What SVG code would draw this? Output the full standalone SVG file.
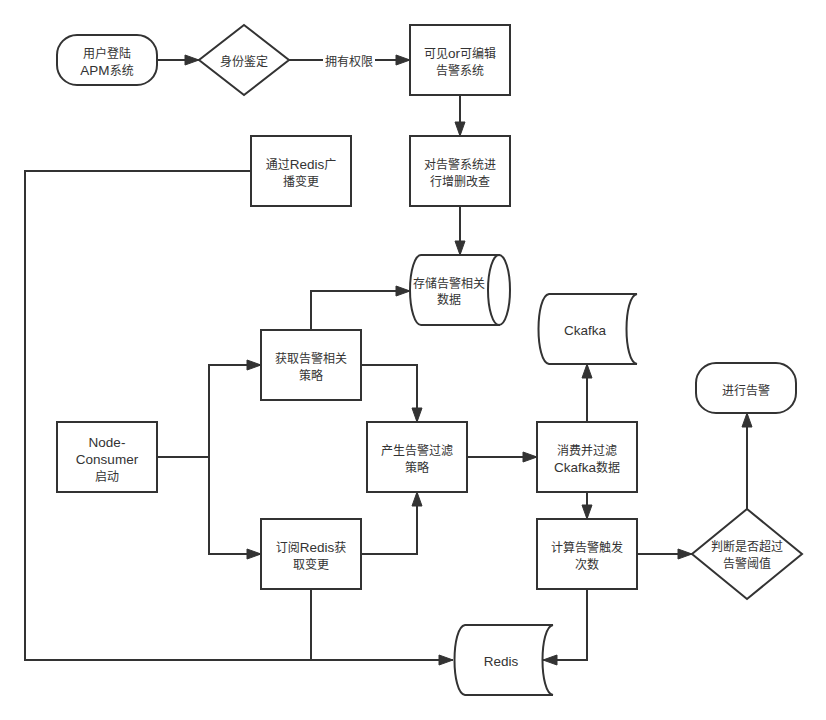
<svg xmlns="http://www.w3.org/2000/svg" width="826" height="720" viewBox="0 0 826 720">
<style>
.s{fill:#ffffff;stroke:#333333;stroke-width:2}
.e{fill:none;stroke:#333333;stroke-width:2}
text{font-family:"Liberation Sans","Noto Sans CJK SC",sans-serif;font-size:12px;fill:#333333;text-anchor:middle}
.l{font-size:13.5px}
</style>
<defs>
<marker id="arr" markerUnits="userSpaceOnUse" markerWidth="16" markerHeight="12" viewBox="0 0 16 12" refX="15" refY="6" orient="auto">
<path d="M1,1 L15,6 L1,11 Z" fill="#333333" stroke="#333333" stroke-width="1"/>
</marker>
</defs>
<rect width="826" height="720" fill="#ffffff"/>
<g id="connectors">
<path class="e" d="M157,60 H199" marker-end="url(#arr)"/>
<path class="e" d="M289,60 H410" marker-end="url(#arr)"/>
<path class="e" d="M460,95 V136" marker-end="url(#arr)"/>
<path class="e" d="M460,206 V255" marker-end="url(#arr)"/>
<path class="e" d="M251,171 H25 V660 H453" marker-end="url(#arr)"/>
<path class="e" d="M311,330 V291 H410" marker-end="url(#arr)"/>
<path class="e" d="M157,457 H209 V365 H261" marker-end="url(#arr)"/>
<path class="e" d="M209,457 V554 H261" marker-end="url(#arr)"/>
<path class="e" d="M361,365 H417 V422" marker-end="url(#arr)"/>
<path class="e" d="M361,554 H417 V492" marker-end="url(#arr)"/>
<path class="e" d="M467,457 H537" marker-end="url(#arr)"/>
<path class="e" d="M587,422 V364" marker-end="url(#arr)"/>
<path class="e" d="M587,492 V519" marker-end="url(#arr)"/>
<path class="e" d="M637,554 H692" marker-end="url(#arr)"/>
<path class="e" d="M747,509 V413" marker-end="url(#arr)"/>
<path class="e" d="M587,589 V660 H543" marker-end="url(#arr)"/>
<path class="e" d="M311,589 V660"/>
<rect x="323" y="52" width="52" height="16" fill="#ffffff"/>
<text x="349" y="66">拥有权限</text>
</g>
<g id="n1">
<rect class="s" x="57" y="35" width="100" height="50" rx="20" ry="20"/>
<text x="107" y="58">用户登陆</text>
<text x="107" y="75"><tspan class="l">APM</tspan>系统</text>
</g>
<g id="n2">
<path class="s" d="M244,25 L289,60 L244,95 L199,60 Z"/>
<text x="244" y="66">身份鉴定</text>
</g>
<g id="n3">
<rect class="s" x="410" y="25" width="100" height="70"/>
<text x="460" y="58">可见<tspan class="l">or</tspan>可编辑</text>
<text x="460" y="75">告警系统</text>
</g>
<g id="n4">
<rect class="s" x="410" y="136" width="100" height="70"/>
<text x="460" y="169">对告警系统进</text>
<text x="460" y="186">行增删改查</text>
</g>
<g id="n5">
<rect class="s" x="251" y="136" width="100" height="70"/>
<text x="301" y="169">通过<tspan class="l">Redis</tspan>广</text>
<text x="301" y="186">播变更</text>
</g>
<g id="n6">
<path class="s" d="M421,255 H499 V325 H421 A11,35 0 0 1 421,255 Z"/>
<ellipse class="s" cx="499" cy="290" rx="11" ry="35"/>
<text x="449" y="288">存储告警相关</text>
<text x="449" y="304">数据</text>
</g>
<g id="n7">
<path class="s" d="M549,294 H637 C623,296 623,362 637,364 H549 C535,362 535,296 549,294 Z"/>
<text x="585" y="335" class="l">Ckafka</text>
</g>
<g id="n8">
<rect class="s" x="696" y="363" width="100" height="50" rx="20" ry="20"/>
<text x="746" y="395">进行告警</text>
</g>
<g id="n9">
<rect class="s" x="261" y="330" width="100" height="70"/>
<text x="311" y="363">获取告警相关</text>
<text x="311" y="380">策略</text>
</g>
<g id="n10">
<rect class="s" x="57" y="422" width="100" height="70"/>
<text x="107" y="447" class="l">Node-</text>
<text x="107" y="464" class="l">Consumer</text>
<text x="107" y="481">启动</text>
</g>
<g id="n11">
<rect class="s" x="367" y="422" width="100" height="70"/>
<text x="417" y="455">产生告警过滤</text>
<text x="417" y="472">策略</text>
</g>
<g id="n12">
<rect class="s" x="537" y="422" width="100" height="70"/>
<text x="587" y="455">消费并过滤</text>
<text x="587" y="472"><tspan class="l">Ckafka</tspan>数据</text>
</g>
<g id="n13">
<rect class="s" x="261" y="519" width="100" height="70"/>
<text x="311" y="552">订阅<tspan class="l">Redis</tspan>获</text>
<text x="311" y="569">取变更</text>
</g>
<g id="n14">
<rect class="s" x="537" y="519" width="100" height="70"/>
<text x="587" y="552">计算告警触发</text>
<text x="587" y="569">次数</text>
</g>
<g id="n15">
<path class="s" d="M747,509 L802,554 L747,599 L692,554 Z"/>
<text x="747" y="551">判断是否超过</text>
<text x="747" y="568">告警阈值</text>
</g>
<g id="n16">
<path class="s" d="M465,625 H553 C539,627 539,693 553,695 H465 C451,693 451,627 465,625 Z"/>
<text x="501" y="666" class="l">Redis</text>
</g>
</svg>
